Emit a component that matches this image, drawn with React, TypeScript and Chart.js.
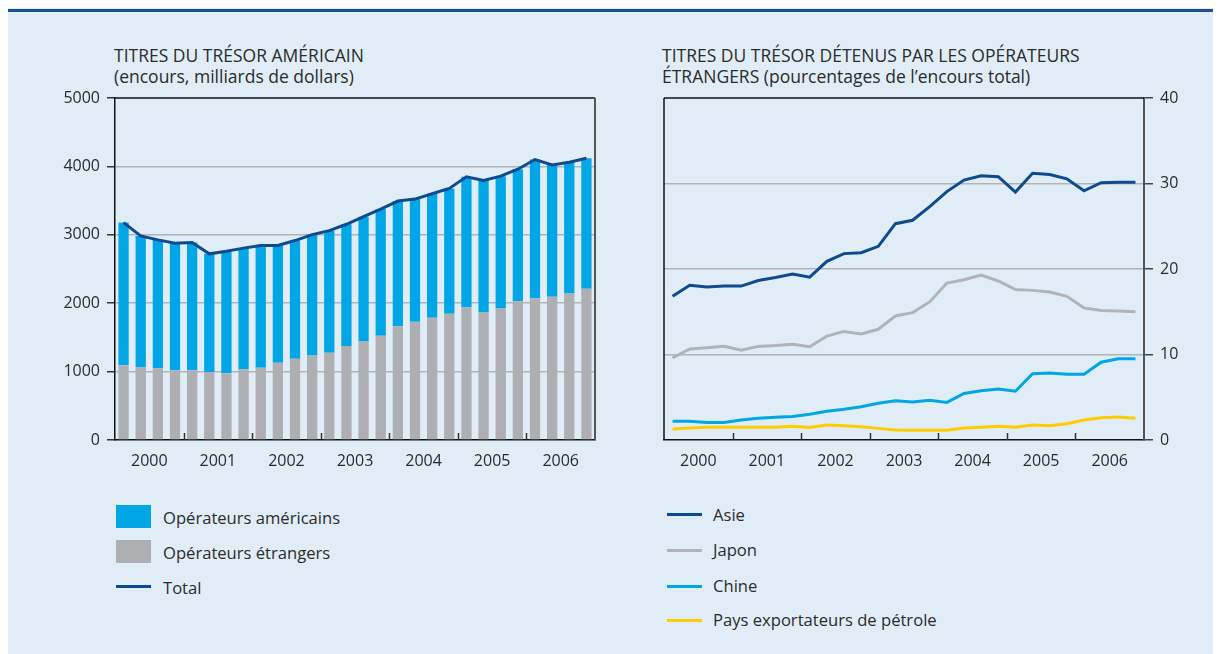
import React, { useEffect, useRef } from 'react';
import { Chart, registerables } from 'chart.js';

Chart.register(...registerables);

// ---------- data ----------
const years = ['2000', '2001', '2002', '2003', '2004', '2005', '2006'];

// Left panel: US Treasury securities outstanding (billions of dollars), quarterly 2000Q1–2006Q4
const totalOutstanding = [3178, 2984, 2926, 2877, 2887, 2722, 2761, 2805, 2843, 2843, 2916, 3003, 3061, 3154, 3265, 3377, 3493, 3522, 3600, 3678, 3847, 3795, 3857, 3959, 4100, 4022, 4061, 4119];
const foreignHolders = [1092, 1067, 1048, 1019, 1019, 990, 975, 1034, 1058, 1131, 1189, 1237, 1276, 1373, 1441, 1524, 1664, 1727, 1786, 1844, 1941, 1863, 1921, 2028, 2072, 2096, 2140, 2213];
const usHolders = [2086, 1917, 1878, 1858, 1868, 1732, 1786, 1771, 1785, 1712, 1727, 1766, 1785, 1781, 1824, 1853, 1829, 1795, 1814, 1834, 1906, 1932, 1936, 1931, 2028, 1926, 1921, 1906];

// Right panel: share of total outstanding held by foreign holders (%)
const asie = [16.8, 18.1, 17.9, 18.0, 18.0, 18.65, 19.0, 19.4, 19.05, 20.9, 21.8, 21.9, 22.65, 25.3, 25.7, 27.3, 29.05, 30.4, 30.9, 30.8, 29.0, 31.2, 31.05, 30.55, 29.15, 30.1, 30.15, 30.15];
const japon = [9.6, 10.65, 10.8, 10.95, 10.5, 10.95, 11.05, 11.2, 10.9, 12.15, 12.7, 12.4, 12.95, 14.5, 14.9, 16.15, 18.35, 18.75, 19.3, 18.6, 17.6, 17.5, 17.3, 16.8, 15.45, 15.15, 15.1, 15.0];
const chine = [2.2, 2.2, 2.05, 2.05, 2.35, 2.55, 2.65, 2.75, 3.0, 3.35, 3.6, 3.9, 4.3, 4.6, 4.45, 4.65, 4.4, 5.45, 5.75, 5.95, 5.7, 7.75, 7.85, 7.7, 7.7, 9.1, 9.5, 9.5];
const petrole = [1.3, 1.4, 1.48, 1.48, 1.48, 1.48, 1.5, 1.6, 1.45, 1.75, 1.68, 1.55, 1.36, 1.17, 1.13, 1.13, 1.13, 1.4, 1.5, 1.6, 1.5, 1.75, 1.68, 1.9, 2.33, 2.6, 2.68, 2.53];

// ---------- styles ----------
const FONT = "'Open Sans', 'Noto Sans', sans-serif";
const TEXT = '#2b2b2b';
const NAVY = '#0d4a8e';
const CYAN = '#00a6e6';
const GREY_BAR = '#adafb2';
const GREY_LINE = '#b1b3b6';
const YELLOW = '#ffcc00';
const GRID = '#b3b3b3';
const BG = '#e1edf6';
const TICK_FONT = { family: FONT, size: 16 };

const Q = 4; // quarters per year
const xMin = -0.5;
const xMax = years.length * Q - 0.5;
const yearCenters = years.map((_, k) => k * Q + (Q - 1) / 2);
const yearBounds = years.slice(1).map((_, k) => (k + 1) * Q - 0.5);
const pts = (arr: number[]) => arr.map((y, i) => ({ x: i, y }));

const framePlugin = {
  id: 'frame',
  afterDraw(chart: any, _args: any, opts: any) {
    const { ctx, chartArea: a, scales } = chart;
    ctx.save();
    ctx.lineCap = 'butt';
    // inner year tick marks
    ctx.strokeStyle = '#333';
    ctx.lineWidth = 1.5;
    for (const b of yearBounds) {
      const x = Math.round(scales.x.getPixelForValue(b)) + 0.5;
      ctx.beginPath();
      ctx.moveTo(x, a.bottom);
      ctx.lineTo(x, a.bottom - 7);
      ctx.stroke();
    }
    // top border
    ctx.strokeStyle = '#111';
    ctx.lineWidth = 1.5;
    ctx.beginPath();
    ctx.moveTo(a.left, a.top);
    ctx.lineTo(a.right, a.top);
    ctx.stroke();
    if (opts.left) {
      ctx.beginPath();
      ctx.moveTo(a.left, a.top);
      ctx.lineTo(a.left, a.bottom);
      ctx.stroke();
    }
    if (opts.right) {
      ctx.strokeStyle = '#555';
      ctx.lineWidth = 2;
      ctx.beginPath();
      ctx.moveTo(a.right, a.top);
      ctx.lineTo(a.right, a.bottom);
      ctx.stroke();
    }
    ctx.restore();
  },
};

const zeroPad = (axis: any) => {
  axis.paddingTop = 0;
  axis.paddingBottom = 0;
  axis.paddingLeft = 0;
  axis.paddingRight = 0;
};

const xAxis = (height: number) => ({
  type: 'linear' as const,
  stacked: true,
  offset: false,
  min: xMin,
  max: xMax,
  afterBuildTicks: (axis: any) => {
    axis.ticks = yearCenters.map((v) => ({ value: v }));
  },
  afterFit: (axis: any) => {
    axis.height = height;
    zeroPad(axis);
  },
  grid: { display: false, drawTicks: false, tickLength: 0 },
  border: { display: true, color: '#111', width: 1.5 },
  ticks: {
    callback: (_v: any, i: number) => years[i],
    font: TICK_FONT,
    color: TEXT,
    padding: 12,
    maxRotation: 0,
    autoSkip: false,
  },
});

const gridColor = (max: number) => (ctx: any) =>
  ctx.tick && (ctx.tick.value === 0 || ctx.tick.value === max) ? 'rgba(0,0,0,0)' : GRID;

function LeftChart() {
  const ref = useRef<HTMLCanvasElement>(null);
  useEffect(() => {
    const chart = new Chart(ref.current as HTMLCanvasElement, {
      type: 'bar',
      data: {
        datasets: [
          {
            type: 'line',
            label: 'Total',
            data: pts(totalOutstanding),
            borderColor: NAVY,
            borderWidth: 3,
            pointRadius: 0,
            stack: 'total',
            order: 0,
          } as any,
          {
            label: 'Opérateurs étrangers',
            data: pts(foreignHolders),
            backgroundColor: GREY_BAR,
            stack: 'ops',
            order: 1,
          },
          {
            label: 'Opérateurs américains',
            data: pts(usHolders),
            backgroundColor: CYAN,
            stack: 'ops',
            order: 1,
          },
        ],
      },
      options: {
        responsive: false,
        animation: false,
        devicePixelRatio: 1,
        layout: { padding: { top: 10, right: 15, left: 0, bottom: 0 } },
        plugins: { legend: { display: false }, tooltip: { enabled: false }, frame: { right: true, left: false } } as any,
        datasets: { bar: { barPercentage: 0.6, categoryPercentage: 1 } },
        scales: {
          x: xAxis(40) as any,
          y: {
            stacked: true,
            min: 0,
            max: 5000,
            afterFit: (axis: any) => {
              axis.width = 67;
              zeroPad(axis);
            },
            ticks: { stepSize: 1000, font: TICK_FONT, color: TEXT, padding: 7, callback: (v: any) => String(v) },
            grid: { color: gridColor(5000), lineWidth: 1.5, tickColor: '#333', tickLength: 8, tickWidth: 1.5 },
            border: { color: '#111', width: 1.5 },
          },
        },
      },
      plugins: [framePlugin],
    });
    return () => chart.destroy();
  }, []);
  return <canvas ref={ref} width={562} height={392} style={{ position: 'absolute', left: 40, top: 80, width: 562, height: 392 }} />;
}

function RightChart() {
  const ref = useRef<HTMLCanvasElement>(null);
  useEffect(() => {
    const line = (label: string, arr: number[], color: string) => ({
      label,
      data: pts(arr),
      borderColor: color,
      backgroundColor: color,
      borderWidth: 3,
      pointRadius: 0,
    });
    const chart = new Chart(ref.current as HTMLCanvasElement, {
      type: 'line',
      data: {
        datasets: [
          line('Asie', asie, NAVY),
          line('Japon', japon, GREY_LINE),
          line('Chine', chine, CYAN),
          line('Pays exportateurs de pétrole', petrole, YELLOW),
        ],
      },
      options: {
        responsive: false,
        animation: false,
        devicePixelRatio: 1,
        layout: { padding: { top: 10, right: 0, left: 24, bottom: 0 } },
        plugins: { legend: { display: false }, tooltip: { enabled: false }, frame: { right: false, left: true } } as any,
        scales: {
          x: xAxis(40) as any,
          y: {
            position: 'right',
            min: 0,
            max: 40,
            afterFit: (axis: any) => {
              axis.width = 68;
              zeroPad(axis);
            },
            ticks: { stepSize: 10, font: TICK_FONT, color: TEXT, padding: 7, callback: (v: any) => String(v) },
            grid: { color: gridColor(40), lineWidth: 1.5, tickColor: '#444', tickLength: 9, tickWidth: 1.5 },
            border: { color: '#555', width: 2 },
          },
        },
      },
      plugins: [framePlugin],
    });
    return () => chart.destroy();
  }, []);
  return <canvas ref={ref} width={572} height={392} style={{ position: 'absolute', left: 632, top: 80, width: 572, height: 392 }} />;
}

const titleStyle: React.CSSProperties = {
  position: 'absolute',
  top: 37,
  fontFamily: FONT,
  fontSize: 17.5,
  lineHeight: '21px',
  color: TEXT,
  whiteSpace: 'nowrap',
};

const legendText: React.CSSProperties = {
  position: 'absolute',
  fontFamily: FONT,
  fontSize: 16.6,
  lineHeight: '20px',
  color: TEXT,
  whiteSpace: 'nowrap',
};

function Swatch({ x, y, color }: { x: number; y: number; color: string }) {
  return <div style={{ position: 'absolute', left: x, top: y, width: 35, height: 23, background: color }} />;
}
function LineKey({ x, y, color }: { x: number; y: number; color: string }) {
  return <div style={{ position: 'absolute', left: x, top: y - 1.5, width: 35, height: 3.5, background: color }} />;
}
function Label({ x, y, text }: { x: number; y: number; text: string }) {
  return <div style={{ ...legendText, left: x, top: y - 10 }}>{text}</div>;
}

export default function App() {
  // all coordinates below are relative to the panel (page coords minus the 8px body margin)
  return (
    <div style={{ position: 'relative', width: 1205, height: 646, background: BG, overflow: 'hidden' }}>
      <div style={{ position: 'absolute', left: 0, top: 1, width: 1205, height: 3, background: '#1b4f90' }} />
      <div style={{ ...titleStyle, left: 106 }}>
        TITRES DU TRÉSOR AMÉRICAIN
        <br />
        (encours, milliards de dollars)
      </div>
      <div style={{ ...titleStyle, left: 654 }}>
        TITRES DU TRÉSOR DÉTENUS PAR LES OPÉRATEURS
        <br />
        ÉTRANGERS (pourcentages de l’encours total)
      </div>
      <LeftChart />
      <RightChart />

      <Swatch x={108} y={497} color={CYAN} />
      <Label x={155} y={510} text="Opérateurs américains" />
      <Swatch x={108} y={532} color={GREY_BAR} />
      <Label x={155} y={545} text="Opérateurs étrangers" />
      <LineKey x={108} y={578} color={NAVY} />
      <Label x={155} y={580} text="Total" />

      <LineKey x={659} y={506} color={NAVY} />
      <Label x={705} y={507} text="Asie" />
      <LineKey x={659} y={542} color={GREY_LINE} />
      <Label x={705} y={542} text="Japon" />
      <LineKey x={659} y={578} color={CYAN} />
      <Label x={705} y={578} text="Chine" />
      <LineKey x={659} y={612} color={YELLOW} />
      <Label x={705} y={612} text="Pays exportateurs de pétrole" />
    </div>
  );
}
